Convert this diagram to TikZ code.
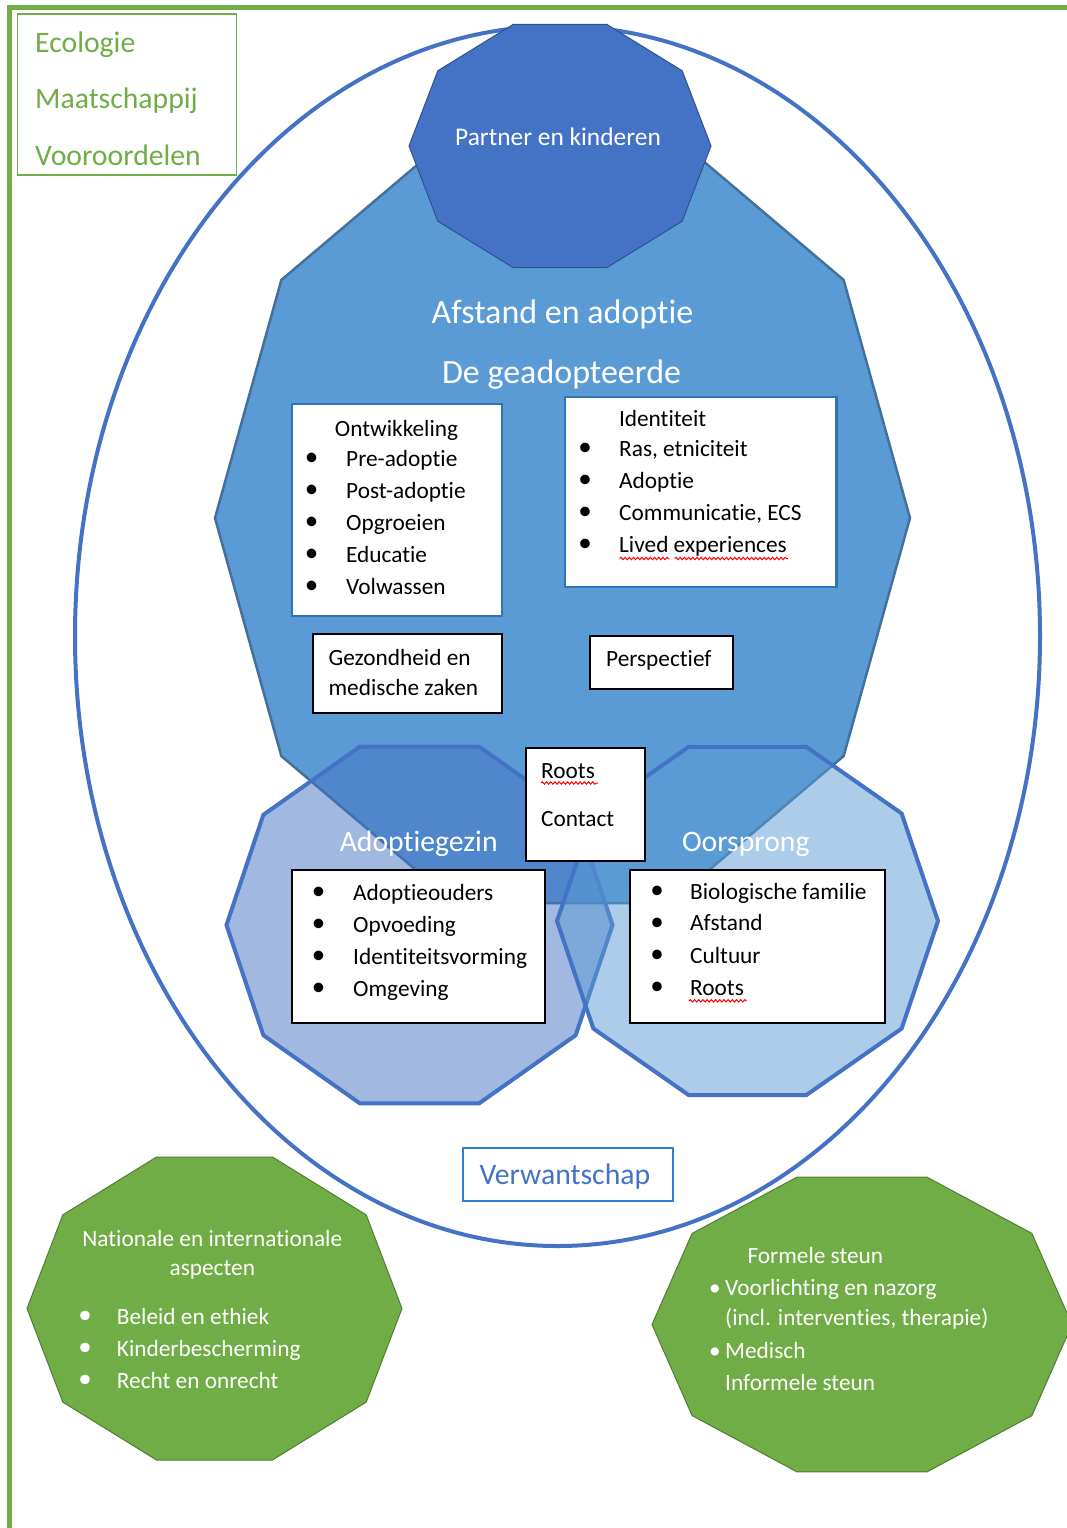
\documentclass[tikz,border=0pt]{standalone}
\usepackage{fontspec}
\setmainfont{Carlito}[RawFeature={-liga}]
\usetikzlibrary{calc,fit,decorations.pathmorphing}
\definecolor{grn}{HTML}{70AD47}
\definecolor{grnd}{HTML}{507E32}
\definecolor{blA}{HTML}{5B9BD5}
\definecolor{blAd}{HTML}{41719C}
\definecolor{blB}{HTML}{4472C4}
\definecolor{blBd}{HTML}{2F528F}
\definecolor{boxbl}{HTML}{2E75B6}
\definecolor{verwbl}{HTML}{2F80D0}
% decagon: style, cx, cy, x radius, y radius
\newcommand\deca[5]{\draw[#1] ($(#2,#3)+({#4},0)$)
  \foreach \dk in {1,...,9}{ -- ($(#2,#3)+({#4*cos(\dk*36)},{#5*sin(\dk*36)})$)} -- cycle;}
% bullet line: [style] name, bullet cx, text x, baseline y, text
\newcommand\bul[6][t]{\node[#1,anchor=base,font=\fontsize{27}{30}\selectfont] (#2b) at (#3,#5-0.8) {•};
  \node[#1] (#2) at (#4,#5) {#6};}
\newcommand\sbul[6][t]{\node[#1,anchor=base] (#2b) at (#3,#5) {•};
  \node[#1] (#2) at (#4,#5) {#6};}
\begin{document}
\begin{tikzpicture}[x=1pt,y=-1pt,
  t/.style={inner sep=0pt, anchor=base west, font=\fontsize{23.3}{28}\selectfont, text=black},
  tw/.style={t, text=white},
  hd/.style={inner sep=0pt, anchor=base, text=white},
  box/.style={draw=black, line width=2pt, fill=white, inner sep=0pt},
  bbox/.style={box, draw=boxbl, line width=2.2pt},
  squig/.style={draw=red, line width=1pt, decorate, decoration={snake, amplitude=1.2pt, segment length=4.2pt}}]
\useasboundingbox (0,0) rectangle (1066,1528);
\fill[white] (0,0) rectangle (1066,1528);

% outer green frame
\draw[grn, line width=4.5pt] (9.5,1530) -- (9.5,7.5) -- (1068,7.5);

% context box
\node[draw=grn, line width=1.5pt, inner sep=0pt, fit={(17.7,14) (236.7,175)}] (ctxbox) {};
\node[t, text=grn, font=\fontsize{29.7}{34}\selectfont] (eco) at (35,52.3) {Ecologie};
\node[t, text=grn, font=\fontsize{29.7}{34}\selectfont] (maat) at (35,108.3) {Maatschappij};
\node[t, text=grn, font=\fontsize{29.7}{34}\selectfont] (voor) at (35,165) {Vooroordelen};

% big ellipse
\draw[blB, line width=4pt] (557.5,636) ellipse [x radius=482.5pt, y radius=610pt];

% big decagon
\deca{fill=blA, draw=blAd, line width=2.5pt}{562.5}{518}{347.5}{405}
% partner decagon
\deca{fill=blB, draw=blBd, line width=1pt}{560}{146}{151}{128}
% lower decagons
\deca{fill=blB, fill opacity=0.5, draw=blB, draw opacity=1, line width=4pt}{419.5}{925}{193}{187.5}
\deca{fill=blA, fill opacity=0.5, draw=blB, draw opacity=1, line width=4pt}{747.5}{921}{190.5}{183}
% green decagons
\deca{fill=grn, draw=grnd, line width=1pt}{214.5}{1308.5}{187.5}{159.3}
\deca{fill=grn, draw=grnd, line width=1pt}{862}{1324.5}{210}{155}

% headings
\node[hd, font=\fontsize{25.4}{30}\selectfont] (partner) at (558,145) {Partner en kinderen};
\node[hd, font=\fontsize{34}{40}\selectfont] (afstand) at (562.5,323.3) {Afstand en adoptie};
\node[hd, font=\fontsize{34}{40}\selectfont] (geadopt) at (561.5,383.3) {De geadopteerde};
\node[hd, font=\fontsize{29.7}{34}\selectfont] (adgezin) at (418.7,851.7) {Adoptiegezin};
\node[hd, font=\fontsize{29.7}{34}\selectfont] (oorsprong) at (745.8,851.7) {Oorsprong};

% Ontwikkeling box
\node[bbox, fit={(291.7,404) (502.2,616)}] (ontwbox) {};
\node[t] (ontw) at (334.7,436) {Ontwikkeling};
\bul{pre}{311.5}{346}{466}{Pre-adoptie}
\bul{post}{311.5}{346}{498}{Post-adoptie}
\bul{opg}{311.5}{346}{530}{Opgroeien}
\bul{edu}{311.5}{346}{562}{Educatie}
\bul{volw}{311.5}{346}{594}{Volwassen}

% Identiteit box
\node[bbox, fit={(565.3,397.3) (836.4,587.3)}] (identbox) {};
\node[t] (ident) at (618.8,426.7) {Identiteit};
\bul{ras}{585}{619}{456.7}{Ras, etniciteit}
\bul{adop}{585}{619}{488.5}{Adoptie}
\bul{comm}{585}{619}{520.7}{Communicatie, ECS}
\bul{lived}{585}{619}{552.7}{Lived experiences}
\draw[squig] (619.6,558.5) -- (669.3,558.5);
\draw[squig] (674.7,558.5) -- (788,558.5);

% Gezondheid box
\node[box, fit={(312.8,634) (502.2,712.7)}] (gezbox) {};
\node[t] (gez1) at (328.4,665.8) {Gezondheid en};
\node[t] (gez2) at (328.4,695.5) {medische zaken};

% Perspectief box
\node[box, fit={(590.1,635.7) (733.2,689.3)}] (perspbox) {};
\node[t] (persp) at (606,666.7) {Perspectief};

% Roots/Contact box
\node[box, fit={(525.5,748) (645,861)}] (rootsbox) {};
\node[t] (roots1) at (541,778.3) {Roots};
\node[t] (contact) at (541,826.7) {Contact};
\draw[squig] (541,783) -- (598,783);

% Adoptiegezin list
\node[box, fit={(292,870) (545,1023)}] (adbox) {};
\bul{adou}{318.6}{353}{900.5}{Adoptieouders}
\bul{opv}{318.6}{353}{932.5}{Opvoeding}
\bul{idv}{318.6}{353}{964.5}{Identiteitsvorming}
\bul{omg}{318.6}{353}{996.5}{Omgeving}

% Oorsprong list
\node[box, fit={(629.5,870) (884.5,1023)}] (oobox) {};
\bul{biol}{657}{690}{899.3}{Biologische familie}
\bul{afst}{657}{690}{930.9}{Afstand}
\bul{cult}{657}{690}{963.3}{Cultuur}
\bul{roots2}{657}{690}{995}{Roots}
\draw[squig] (689,1000.8) -- (746.6,1000.8);

% Verwantschap
\node[box, draw=verwbl, line width=2pt, fit={(462.7,1148.3) (672.7,1200.7)}] (verwbox) {};
\node[t, text=blB, font=\fontsize{29.7}{34}\selectfont] (verw) at (479.3,1184.3) {Verwantschap};

% left green decagon text
\node[hd, font=\fontsize{23.3}{28}\selectfont] (nat1) at (212.3,1246) {Nationale en internationale};
\node[hd, font=\fontsize{23.3}{28}\selectfont] (nat2) at (212.3,1275.5) {aspecten};
\bul[tw]{bel}{85}{116.7}{1324}{Beleid en ethiek}
\bul[tw]{kind}{85}{116.7}{1356}{Kinderbescherming}
\bul[tw]{recht}{85}{116.7}{1388.3}{Recht en onrecht}

% right green decagon text
\node[tw] (form) at (747.3,1263.3) {Formele steun};
\sbul[tw]{voorl}{715}{725}{1295}{Voorlichting en nazorg}
\node[tw] (incl) at (725,1325.5) {(incl. interventies, therapie)};
\sbul[tw]{med}{715}{725}{1358.3}{Medisch}
\node[tw] (inform) at (725,1390) {Informele steun};
\end{tikzpicture}
\end{document}
